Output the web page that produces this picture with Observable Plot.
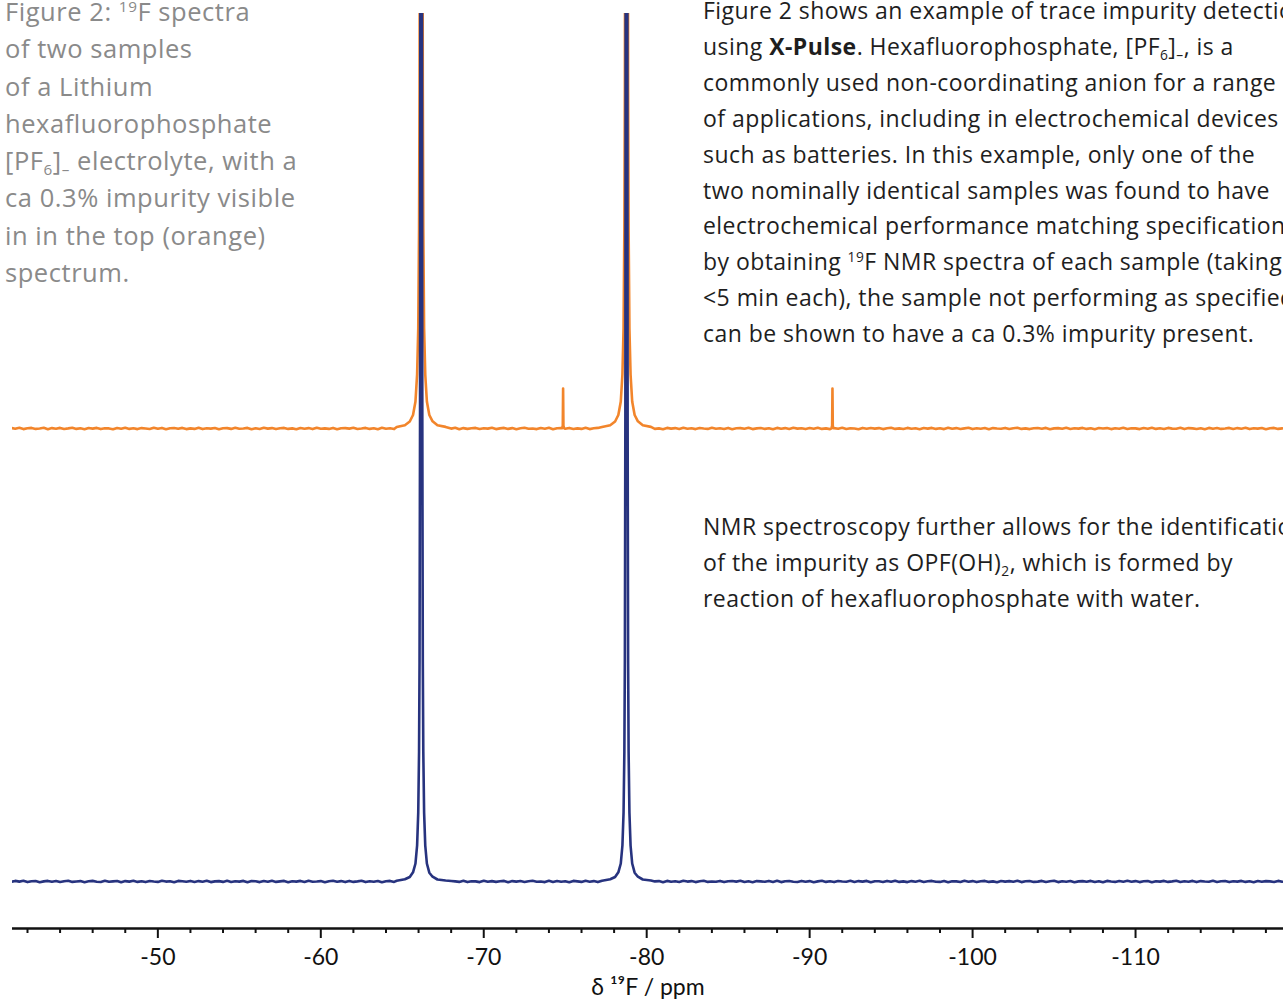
<!DOCTYPE html>
<html>
<head>
<meta charset="utf-8">
<script src="https://cdn.jsdelivr.net/npm/d3@7"></script>
<script src="https://cdn.jsdelivr.net/npm/@observablehq/plot@0.6"></script>
<style>
  html, body { margin: 0; padding: 0; background: #fff; overflow: hidden; }
  #wrap { position: relative; width: 1283px; height: 1000px; overflow: hidden; }
  #chart { position: absolute; left: 0; top: 0; }
  .txt { position: absolute; white-space: nowrap; font-family: "Open Sans", sans-serif; }
  #caption { left: 5px; top: -7px; font-size: 25.5px; letter-spacing: 0.55px; line-height: 37.3px; color: #8a8a8a; }
  #para1 { left: 703px; top: -7px; font-size: 23px; letter-spacing: 0.45px; line-height: 35.9px; color: #1e1e1e; }
  #para2 { left: 703px; top: 509px; font-size: 23px; letter-spacing: 0.45px; line-height: 35.9px; color: #1e1e1e; }
  sub { font-size: 0.6em; vertical-align: -0.35em; line-height: 0; }
  sup { font-size: 0.6em; vertical-align: 0.6em; line-height: 0; }
</style>
</head>
<body>
<div id="wrap">
  <div id="chart"></div>
  <div id="caption" class="txt">
    Figure 2: <sup>19</sup>F spectra<br>
    of two samples<br>
    of a Lithium<br>
    hexafluorophosphate<br>
    [PF<sub>6</sub>]<sub>–</sub> electrolyte, with a<br>
    ca 0.3% impurity visible<br>
    in in the top (orange)<br>
    spectrum.
  </div>
  <div id="para1" class="txt">
    Figure 2 shows an example of trace impurity detection<br>
    using <b>X-Pulse</b>. Hexafluorophosphate, [PF<sub>6</sub>]<sub>–</sub>, is a<br>
    commonly used non-coordinating anion for a range<br>
    of applications, including in electrochemical devices<br>
    such as batteries. In this example, only one of the<br>
    two nominally identical samples was found to have<br>
    electrochemical performance matching specification<br>
    by obtaining <sup>19</sup>F NMR spectra of each sample (taking<br>
    &lt;5 min each), the sample not performing as specified<br>
    can be shown to have a ca 0.3% impurity present.
  </div>
  <div id="para2" class="txt">
    NMR spectroscopy further allows for the identification<br>
    of the impurity as OPF(OH)<sub>2</sub>, which is formed by<br>
    reaction of hexafluorophosphate with water.
  </div>
</div>
<script>
// ---- data: chemical shift (ppm) and intensity (arbitrary units) ----
const ppmStart = -41.0;     // first baseline sample
const ppmStep = -0.25;      // baseline sample spacing
const noiseUnit = 0.01;     // baseline noise values are in hundredths of an intensity unit
const orangeOffset = 45.3;  // vertical stacking offset of the top (orange) spectrum

const orangeNoise = [
5,-3,7,-6,2,6,-4,0,7,-7,4,-2,6,-5,1,8,-4,3,-7,5,-1,6,-6,3,1,
-8,5,-3,7,-4,2,-6,4,0,-5,7,-3,6,-7,3,5,-2,6,-6,1,-4,8,-6,3,-1,
5,-7,2,4,-4,7,-3,0,6,-8,3,-5,7,-1,4,-6,3,6,-4,1,-7,5,-2,4,-6,
8,-3,1,-4,6,-7,3,4,-1,7,-5,0,6,-4,2,-7,7,-3,3,-6,5,1,-4,8,-2,
4,-7,6,-3,1,5,-6,3,-1,7,-8,4,-4,2,6,-5,3,-1,7,-6,1,6,-4,4,-7,
3,8,-3,0,-6,5,-2,7,-7,3,4,-3,6,-5,1,-4,7,-6,2,6,-1,-7,4,1,-4,
6,-3,5,3,-6,7,-2,5,-4,1,-7,6,-1,4,-5,8,-3,2,-6,5,0,-4,7,-2,3,
-5,6,-7,2,4,-3,7,-6,1,5,-4,3,-8,6,-2,4,-5,7,-1,3,-6,5,-3,8,-4,
1,-6,4,-2,7,-5,3,0,-7,6,-3,5,-1,4,-6,2,7,-4,1,-5,6,-2,3,-7,5,
-1,6,-4,2,-6,8,-3,4,-5,1,7,-6,3,-2,5,-7,4,0,-3,6,-5,2,7,-4,1,
-6,3,5,-2,6,-7,1,4,-3,7,-5,2,-1,6,-4,3,-7,5,0,4,-6,2,-3,7,-5,
3,1,-6,5,-2,8,-4,2,-5,6,-1,-3,7,-6,4,1,-5,3,-7,6,-2,5,-4,0,6,
-5,4,-2,7,-6,3,-1,5,-7,2,6,-4,1
];
const blueNoise = [
-4,6,-1,7,-6,3,4,-7,1,6,-3,5,-5,2,7,-4,0,4,-7,3,6,-2,-5,7,-3,
1,5,-8,4,-1,7,-4,3,-6,5,0,-4,8,-1,3,-7,6,2,-3,6,-5,4,-2,7,-6,
1,4,-4,7,-5,3,-1,6,-8,4,2,-6,5,-3,7,-4,1,6,-7,3,-1,6,-5,8,-3,
0,4,-7,3,7,-2,4,-6,6,-4,1,7,-6,3,-3,5,-8,2,6,-4,7,-1,4,-7,0,
6,-3,4,-5,8,-2,3,-7,5,1,-4,7,-6,3,1,-6,7,-3,4,-4,2,6,-7,4,-1,
5,-5,3,7,-3,0,-6,8,-4,5,-2,3,-7,6,1,-4,7,-2,4,-6,1,7,-8,4,-1,
6,-4,2,-5,7,-3,5,-6,1,4,-7,6,-2,3,-5,8,-1,4,-6,2,7,-4,0,-3,6,
-6,3,5,-1,7,-5,2,-7,4,1,-3,6,-4,7,-6,2,5,-2,-5,6,-3,4,-7,1,7,
-4,3,-6,5,0,-2,7,-5,4,-1,6,-7,3,2,-5,6,-3,8,-4,1,-6,4,-2,7,-5,
2,6,-3,-4,5,-7,3,1,-5,7,-2,4,-6,3,6,-4,1,-7,5,-1,4,-3,7,-6,2,
5,-4,-1,6,-5,3,7,-6,2,-3,5,-7,1,4,-2,6,-5,3,-8,6,0,-4,5,-2,7,
-3,4,-6,2,5,-7,3,-1,6,-4,1,7,-5,3,-2,6,-6,4,0,-3,7,-5,2,4,-6,
3,-1,6,-4,2,-7,5,-3,4,1,-5,6,-2
];

// PF6- doublet (both samples) and OPF(OH)2 impurity doublet (orange sample only)
const mainPeakCenters = [-66.16, -78.76];
const impurityCenters = [-74.87, -91.40];

// peak profile samples: offset from centre (ppm) and height
const profileOffsets = [-1.5,-1.0,-0.7,-0.5,-0.35,-0.25,-0.18,-0.13,-0.1,-0.07,-0.05,-0.035,0,0.035,0.05,0.07,0.1,0.13,0.18,0.25,0.35,0.5,0.7,1.0,1.5];
const bluePeakHeights   = [0.1,0.2,0.48,0.88,1.8,3.6,6.9,13,22,46,90,180,500,180,90,46,22,13,6.9,3.6,1.8,0.92,0.45,0.22,0.08];
const orangePeakHeights = [0.16,0.32,0.72,1.35,2.7,5.4,10,20,34,69,135,270,700,270,135,69,34,20,10,5.4,2.7,1.35,0.7,0.33,0.15];

const impurityOffsets = [-0.06,-0.02,0,0.02,0.06];
const impurityHeights = [0.03,0.3,4.0,0.3,0.02];

const majorTicks = [-50,-60,-70,-80,-90,-100,-110];
const minorTicks = [-42,-44,-46,-48,-52,-54,-56,-58,-62,-64,-66,-68,-72,-74,-76,-78,-82,-84,-86,-88,-92,-94,-96,-98,-102,-104,-106,-108,-112,-114,-116,-118];
const axisLabel = "δ ¹⁹F / ppm";

const xDomain = [-41.08, -119.08];
const yDomain = [-4.7, 86.8];
const orange = "#f2852b";
const blue = "#27337f";

// ---- assemble spectra from the samples above ----
function buildSpectrum(noise, peakHeights, withImpurity, offset) {
  const pts = [];
  noise.forEach((v, i) => {
    const ppm = ppmStart + ppmStep * i;
    if (mainPeakCenters.some(c => Math.abs(ppm - c) < 1.6)) return;
    pts.push({ppm, y: v * noiseUnit + offset});
  });
  for (const c of mainPeakCenters) {
    profileOffsets.forEach((d, i) => pts.push({ppm: c + d, y: peakHeights[i] + offset}));
  }
  if (withImpurity) {
    for (const c of impurityCenters) {
      impurityOffsets.forEach((d, i) => pts.push({ppm: c + d, y: impurityHeights[i] + offset}));
    }
  }
  pts.sort((a, b) => b.ppm - a.ppm);
  return pts;
}
const orangeData = buildSpectrum(orangeNoise, orangePeakHeights, true, orangeOffset);
const blueData = buildSpectrum(blueNoise, bluePeakHeights, false, 0);

const chart = Plot.plot({
  width: 1283,
  height: 1000,
  marginLeft: 12,
  marginRight: 0,
  marginTop: 13,
  marginBottom: 72,
  style: { fontFamily: "Lato, sans-serif", background: "transparent", color: "#111" },
  x: { domain: xDomain, axis: null },
  y: { domain: yDomain, axis: null },
  marks: [
    Plot.line(orangeData, { x: "ppm", y: "y", stroke: orange, strokeWidth: 2.6, clip: true }),
    Plot.line(blueData, { x: "ppm", y: "y", stroke: blue, strokeWidth: 2.6, clip: true }),
    Plot.axisX({ ticks: minorTicks, tickSize: 5, tickFormat: () => "", strokeWidth: 2, stroke: "#111", label: null }),
    Plot.axisX({ ticks: majorTicks, tickSize: 10, tickPadding: 10, tickFormat: d => String(d), strokeWidth: 2, stroke: "#111", fontSize: 23, fill: "#111", label: null }),
    Plot.ruleY([yDomain[0]], { stroke: "#111", strokeWidth: 2.5 }),
    Plot.text([axisLabel], { frameAnchor: "bottom", dy: 59, lineAnchor: "middle", fontSize: 23, fill: "#111" })
  ]
});
document.getElementById("chart").appendChild(chart);
</script>
</body>
</html>
